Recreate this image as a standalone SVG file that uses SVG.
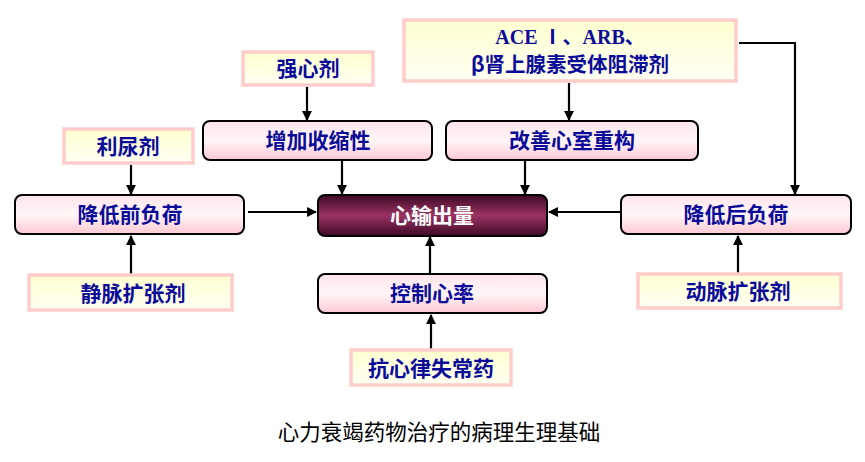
<svg xmlns="http://www.w3.org/2000/svg" width="865" height="462" viewBox="0 0 865 462">
<style>
.drug{fill:url(#yg);stroke:#ffcccc;stroke-width:3.5}
.eff{fill:url(#pg);stroke:#000;stroke-width:2}
.lbl{font-family:"Noto Sans CJK SC","Noto Sans CJK JP",sans-serif;font-weight:bold;font-size:21px;fill:#0b0b99;text-anchor:middle}
.ser{font-family:"Liberation Serif","Noto Sans CJK SC",serif;font-weight:bold;font-size:20px;fill:#0b0b99;text-anchor:middle}
.con{stroke:#000;stroke-width:2.2;fill:none;marker-end:url(#ah)}
</style>
<defs>
<linearGradient id="yg" x1="0" y1="0" x2="0" y2="1"><stop offset="0" stop-color="#ffffd0"/><stop offset="1" stop-color="#fffff4"/></linearGradient>
<linearGradient id="pg" x1="0" y1="0" x2="0" y2="1"><stop offset="0" stop-color="#ffe4ea"/><stop offset="0.5" stop-color="#fff6f8"/><stop offset="1" stop-color="#ffc8d2"/></linearGradient>
<linearGradient id="mg" x1="0" y1="0" x2="0" y2="1"><stop offset="0" stop-color="#3e0a24"/><stop offset="0.5" stop-color="#9a3264"/><stop offset="1" stop-color="#3e0a24"/></linearGradient>
<marker id="ah" viewBox="0 0 10 10" refX="9" refY="5" markerWidth="4.5" markerHeight="4.5" orient="auto" markerUnits="strokeWidth"><path d="M0,0 L10,5 L0,10 z" fill="#000"/></marker>
</defs>
<g id="connectors">
<line class="con" x1="307" y1="87" x2="307" y2="120"/>
<line class="con" x1="342" y1="161" x2="342" y2="194"/>
<line class="con" x1="131" y1="165" x2="131" y2="194"/>
<line class="con" x1="569" y1="83" x2="569" y2="120"/>
<line class="con" x1="525" y1="161" x2="525" y2="194"/>
<polyline class="con" points="739,43 795,43 795,194"/>
<line class="con" x1="620" y1="212" x2="549" y2="212"/>
<line class="con" x1="248" y1="212" x2="316" y2="212"/>
<line class="con" x1="131" y1="274" x2="131" y2="236"/>
<line class="con" x1="430" y1="273" x2="430" y2="237"/>
<line class="con" x1="431" y1="349" x2="431" y2="315"/>
<line class="con" x1="738" y1="273" x2="738" y2="236"/>
</g>
<g id="n-qiangxinji"><rect class="drug" x="243" y="52" width="130" height="33"/><text class="lbl" x="308" y="76">强心剂</text></g>
<g id="n-liniaoji"><rect class="drug" x="64" y="129" width="129" height="34"/><text class="lbl" x="128" y="154">利尿剂</text></g>
<g id="n-ace"><rect class="drug" x="404" y="20" width="332" height="61"/><text class="ser" x="570" y="44">ACE Ⅰ、ARB、</text><text class="lbl" x="570" y="72" style="font-size:20.5px">β肾上腺素受体阻滞剂</text></g>
<g id="n-jingmai"><rect class="drug" x="29" y="275" width="203" height="35"/><text class="lbl" x="133" y="301">静脉扩张剂</text></g>
<g id="n-kangxinlv"><rect class="drug" x="351" y="350" width="160" height="35"/><text class="lbl" x="431" y="376">抗心律失常药</text></g>
<g id="n-dongmai"><rect class="drug" x="638" y="274" width="203" height="34"/><text class="lbl" x="738" y="299">动脉扩张剂</text></g>
<g id="n-zengjia"><rect class="eff" x="203" y="121" width="229" height="39" rx="7"/><text class="lbl" x="318" y="148">增加收缩性</text></g>
<g id="n-gaishan"><rect class="eff" x="446" y="121" width="252" height="39" rx="7"/><text class="lbl" x="572" y="148">改善心室重构</text></g>
<g id="n-qianfuhe"><rect class="eff" x="15" y="195" width="229" height="39" rx="7"/><text class="lbl" x="130" y="222">降低前负荷</text></g>
<g id="n-xinshuchu"><rect x="318" y="195" width="229" height="41" rx="7" fill="url(#mg)" stroke="#000" stroke-width="2"/><text class="lbl" x="432" y="223" style="fill:#fff">心输出量</text></g>
<g id="n-houfuhe"><rect class="eff" x="621" y="195" width="230" height="39" rx="7"/><text class="lbl" x="736" y="222">降低后负荷</text></g>
<g id="n-kongzhi"><rect class="eff" x="318" y="274" width="229" height="39" rx="7"/><text class="lbl" x="432" y="301">控制心率</text></g>
<text x="439" y="440" font-family="Noto Sans CJK SC,sans-serif" font-size="21.5" fill="#000" text-anchor="middle">心力衰竭药物治疗的病理生理基础</text>
</svg>
